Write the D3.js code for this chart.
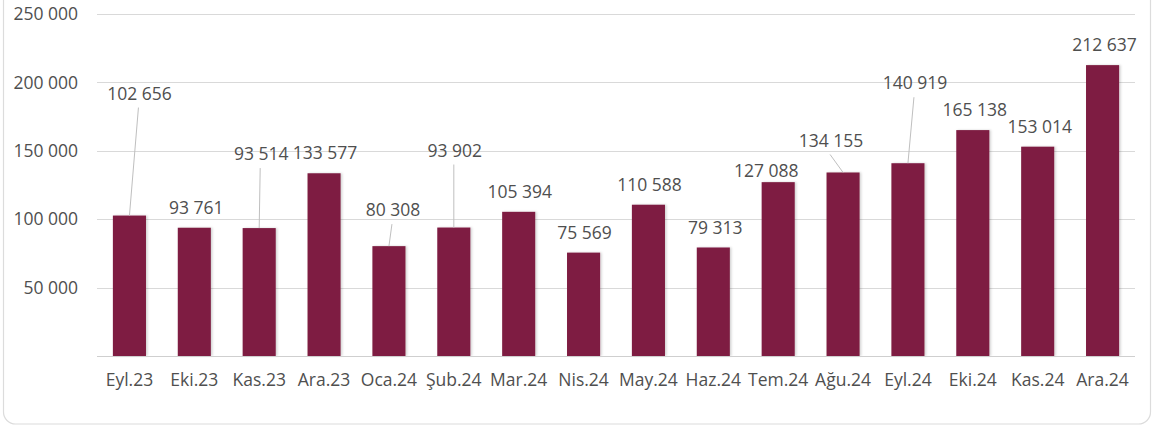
<!DOCTYPE html>
<html>
<head>
<meta charset="utf-8">
<script src="https://cdn.jsdelivr.net/npm/d3@7"></script>
<style>
  body { margin: 0; background: #fff; }
  svg { display: block; }
</style>
</head>
<body>
<div id="chart-area"></div>
<script>
// Months (x categories)
var months = ["Eyl.23", "Eki.23", "Kas.23", "Ara.23", "Oca.24", "Şub.24", "Mar.24", "Nis.24",
	"May.24", "Haz.24", "Tem.24", "Ağu.24", "Eyl.24", "Eki.24", "Kas.24", "Ara.24"];

// Values
var values = [102656, 93761, 93514, 133577, 80308, 93902, 105394, 75569,
	110588, 79313, 127088, 134155, 140919, 165138, 153014, 212637];

// Y ticks
var yTicks = [50000, 100000, 150000, 200000, 250000];

// Label nudges (px) from default spot above the bar, and whether a leader line is drawn
var labelDx = [10, 2, 2, 1, 4, 1, 1, 1, 1, 2, -12, -12, 7, 2, 2, 2];
var labelDy = [-102, 0, -54, 0, -16, -57, 0, 0, 0, 0, 9, -12, -60, 0, 0, 0];
var hasLeader = [1, 0, 1, 0, 1, 1, 0, 0, 0, 0, 0, 1, 1, 0, 0, 0];

var barColor = "#7e1d42";
var gridColor = "#d9d9d9";
var textColor = "#4f4f4f";
var font = "'Open Sans', 'Noto Sans', sans-serif";

var width = 1161, height = 428;
var plot = {left: 97, right: 1135, top: 14, bottom: 356};

var svg = d3.select("#chart-area").append("svg")
	.attr("width", width)
	.attr("height", height);

// Card outline
svg.append("rect")
	.attr("x", 3.5)
	.attr("y", -20)
	.attr("width", 1147)
	.attr("height", 444)
	.attr("rx", 12)
	.attr("fill", "#fff")
	.attr("stroke", "#dcdcdc")
	.attr("stroke-width", 1.2);

// Scales
var x = d3.scaleBand()
	.domain(months)
	.range([plot.left, plot.right])
	.paddingInner(0.49)
	.paddingOuter(0.245);

var y = d3.scaleLinear()
	.domain([0, 250000])
	.range([plot.bottom, plot.top]);

var fmt = function(v) { return d3.format(",")(v).replace(/,/g, " "); };

// Gridlines
svg.append("g")
	.selectAll("line")
	.data(yTicks)
	.enter().append("line")
	.attr("x1", plot.left)
	.attr("x2", plot.right)
	.attr("y1", function(d) { return Math.round(y(d)) + 0.5; })
	.attr("y2", function(d) { return Math.round(y(d)) + 0.5; })
	.attr("stroke", gridColor)
	.attr("stroke-width", 1);

// Y axis labels
var yAxis = svg.append("g")
	.attr("transform", "translate(" + plot.left + ",0)")
	.call(d3.axisLeft(y).tickValues(yTicks).tickSize(0).tickPadding(19).tickFormat(fmt));
yAxis.select(".domain").remove();
yAxis.selectAll("text")
	.attr("fill", textColor)
	.attr("font-family", font)
	.attr("font-size", "17.5px");

// Bar shadow
var defs = svg.append("defs");
var f = defs.append("filter").attr("id", "sh").attr("x", "-20%").attr("y", "-10%").attr("width", "150%").attr("height", "130%");
f.append("feDropShadow").attr("dx", 1.5).attr("dy", 0).attr("stdDeviation", 1.2)
	.attr("flood-color", "#000").attr("flood-opacity", 0.18);

// Bars
svg.append("g")
	.selectAll("rect")
	.data(values)
	.enter().append("rect")
	.attr("x", function(d, i) { return x(months[i]); })
	.attr("y", function(d) { return y(d); })
	.attr("width", x.bandwidth())
	.attr("height", function(d) { return y(0) - y(d); })
	.attr("fill", barColor)
	.attr("filter", "url(#sh)");

// X axis
var xAxis = svg.append("g")
	.attr("transform", "translate(0," + plot.bottom + ")")
	.call(d3.axisBottom(x).tickSize(0).tickPadding(18));
xAxis.select(".domain")
	.attr("stroke", "#cfcfcf")
	.attr("d", "M" + plot.left + ",0.5H" + plot.right);
xAxis.selectAll("text")
	.attr("fill", textColor)
	.attr("font-family", font)
	.attr("font-size", "17.5px");

// Data labels
var labels = svg.append("g");
values.forEach(function(v, i) {
	var cx = x(months[i]) + x.bandwidth() / 2;
	var top = y(v);
	var lx = cx + labelDx[i];
	var ly = top - 20 + labelDy[i];

	if (hasLeader[i]) {
		labels.append("line")
			.attr("x1", lx - 1)
			.attr("y1", ly + 14)
			.attr("x2", cx)
			.attr("y2", top)
			.attr("stroke", "#bfbfbf")
			.attr("stroke-width", 1);
	}

	labels.append("text")
		.attr("x", lx)
		.attr("y", ly)
		.attr("dy", "0.35em")
		.attr("text-anchor", "middle")
		.attr("fill", textColor)
		.attr("font-family", font)
		.attr("font-size", "17.5px")
		.text(fmt(v));
});
</script>
</body>
</html>
